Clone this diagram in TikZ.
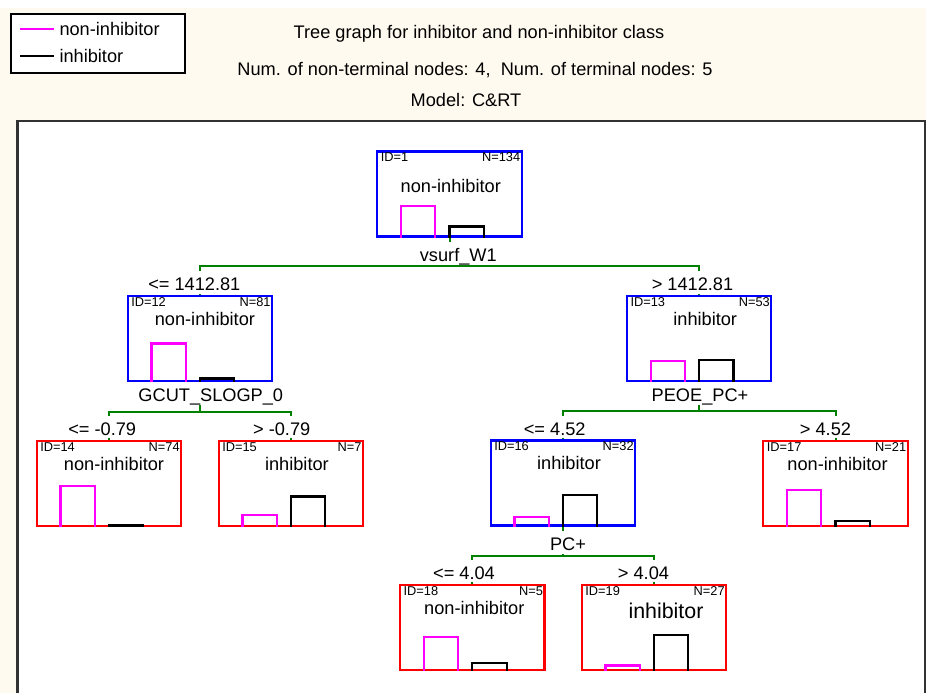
\documentclass[tikz,border=0pt]{standalone}
\usepackage{fontspec}
\setmainfont{Liberation Sans}
\definecolor{cream}{RGB}{255,250,240}
\definecolor{dgreen}{RGB}{0,128,0}
\definecolor{pinkc}{RGB}{255,0,255}
\definecolor{framec}{RGB}{50,50,50}
\tikzset{
  tbox/.style={draw, line width=2.2pt, minimum width=144.3pt, minimum height=85pt, inner sep=0pt},
  small/.style={font=\fontsize{12.8pt}{14pt}\selectfont, inner sep=0pt},
  big/.style={font=\fontsize{18.2pt}{20pt}\selectfont, inner sep=0pt},
  bigger/.style={font=\fontsize{21.4pt}{24pt}\selectfont, inner sep=0pt},
  lbl/.style={font=\fontsize{18.2pt}{20pt}\selectfont, fill=white, inner xsep=1pt, inner ysep=0.5pt, text height=19pt, text depth=2.5pt, anchor=base},
  conn/.style={draw=dgreen, line width=2pt},
  pbar/.style={draw=pinkc, line width=2.2pt},
  kbar/.style={draw=black, line width=2.2pt},
}
\newcommand\mkbox[5]{%
  \node[tbox, draw=#2] (#1) at (#3) {};
  \node[small, anchor=base west] (#1id) at ([xshift=4.4pt,yshift=-11.5pt]#1.north west) {ID=#4};
  \node[small, anchor=base east] (#1n) at ([xshift=-2.4pt,yshift=-11.5pt]#1.north east) {N=#5};
}
\newcommand\mkclass[5]{%
  \node[#5, anchor=base] (#1c) at ([xshift=#3pt,yshift=-#4pt]#1.north) {#2};
}
\newcommand\mkbars[3]{%
  \draw[pbar] ([xshift=-48.5pt]#1.south) -- ++(0pt,#2pt) -- ++(34.3pt,0pt) -- ++(0pt,-#2pt);
  \draw[kbar] (#1.south) -- ++(0pt,#3pt) -- ++(34.3pt,0pt) -- ++(0pt,-#3pt);
}
\begin{document}
\begin{tikzpicture}[x=1pt,y=-1pt]
\useasboundingbox (0,0) rectangle (926,693);
\fill[white] (0,0) rectangle (926,693);
\fill[cream] (0,8) rectangle (926,693);
\filldraw[fill=white, draw=framec, line width=2.2pt] (17.5,121) rectangle (925,710);

% legend
\node[draw=black, fill=white, line width=2pt, minimum width=174.3pt, minimum height=59pt, inner sep=0pt, anchor=north west] (legend) at (10,13.3) {};
\draw[pinkc, line width=2pt] (20,29.3) -- (54.3,29.3);
\draw[black, line width=2pt] (20,55.7) -- (54.3,55.7);
\node[big, anchor=base west] (lg1) at (59.3,36) {non-inhibitor};
\node[big, anchor=base west] (lg2) at (59.3,62.3) {inhibitor};

% titles
\node[big, anchor=base] (t1) at (479,38.3) {Tree graph for inhibitor and non-inhibitor class};
\node[big, anchor=base] (t2) at (475,75) {Num. of non-terminal nodes: 4,\ \ Num. of terminal nodes: 5};
\node[big, anchor=base] (t3) at (466,106.7) {Model: C\&RT};

% boxes
\mkbox{n1}{blue}{449.5,193.9}{1}{134}
\mkbox{n12}{blue}{199.9,338.2}{12}{81}
\mkbox{n13}{blue}{699.2,338.1}{13}{53}
\mkbox{n14}{red}{109,483.2}{14}{74}
\mkbox{n15}{red}{290.9,483.2}{15}{7}
\mkbox{n16}{blue}{563,483}{16}{32}
\mkbox{n17}{red}{835.5,483.2}{17}{21}
\mkbox{n18}{red}{472.3,627.2}{18}{5}
\mkbox{n19}{red}{654,627.2}{19}{27}

\mkclass{n1}{non-inhibitor}{1.3}{41.7}{big}
\mkclass{n12}{non-inhibitor}{5}{30.5}{big}
\mkclass{n13}{inhibitor}{6}{30.5}{big}
\mkclass{n14}{non-inhibitor}{5}{30.5}{big}
\mkclass{n15}{inhibitor}{6}{30.5}{big}
\mkclass{n16}{inhibitor}{6}{30.5}{big}
\mkclass{n17}{non-inhibitor}{2}{30.5}{big}
\mkclass{n18}{non-inhibitor}{2}{30.5}{big}
\mkclass{n19}{inhibitor}{12}{34.6}{bigger}

% connectors
\coordinate (s1) at (449.5,266);
\draw[conn] (n1.south) -- (s1) -| (n12.north);
\draw[conn] (s1) -| (n13.north);
\coordinate (s12) at (199.9,411.5);
\draw[conn] (n12.south) -- (s12) -| (n14.north);
\draw[conn] (s12) -| (n15.north);
\coordinate (s13) at (699.2,411);
\draw[conn] (n13.south) -- (s13) -| (n16.north);
\draw[conn] (s13) -| (n17.north);
\coordinate (s16) at (563,555.7);
\draw[conn] (n16.south) -- (s16) -| (n18.north);
\draw[conn] (s16) -| (n19.north);

% labels
\node[lbl] (l1) at (458.3,261.7) {vsurf\_W1};
\node[lbl] (l12a) at (194.3,290.7) {<= 1412.81};
\node[lbl] (l13a) at (692.5,290.7) {> 1412.81};
\node[lbl] (l12) at (210.8,401.7) {GCUT\_SLOGP\_0};
\node[lbl] (l13) at (700,401.7) {PEOE\_PC+};
\node[lbl] (l14a) at (102.2,435.3) {<= -0.79};
\node[lbl] (l15a) at (281.7,435.3) {> -0.79};
\node[lbl] (l16a) at (554.7,435.3) {<= 4.52};
\node[lbl] (l17a) at (825.5,435.3) {> 4.52};
\node[lbl] (l16) at (568,550.7) {PC+};
\node[lbl] (l18a) at (464,579.3) {<= 4.04};
\node[lbl] (l19a) at (643.5,579.3) {> 4.04};

% bars
\mkbars{n1}{31.7}{11}
\mkbars{n12}{38.4}{3.4}
\mkbars{n13}{20.4}{21.4}
\mkbars{n14}{41}{1.4}
\mkbars{n15}{11.7}{30.4}
\mkbars{n16}{10}{31.6}
\mkbars{n17}{36.7}{6}
\mkbars{n18}{33.7}{7.7}
\mkbars{n19}{5.4}{35.7}
\end{tikzpicture}
\end{document}
